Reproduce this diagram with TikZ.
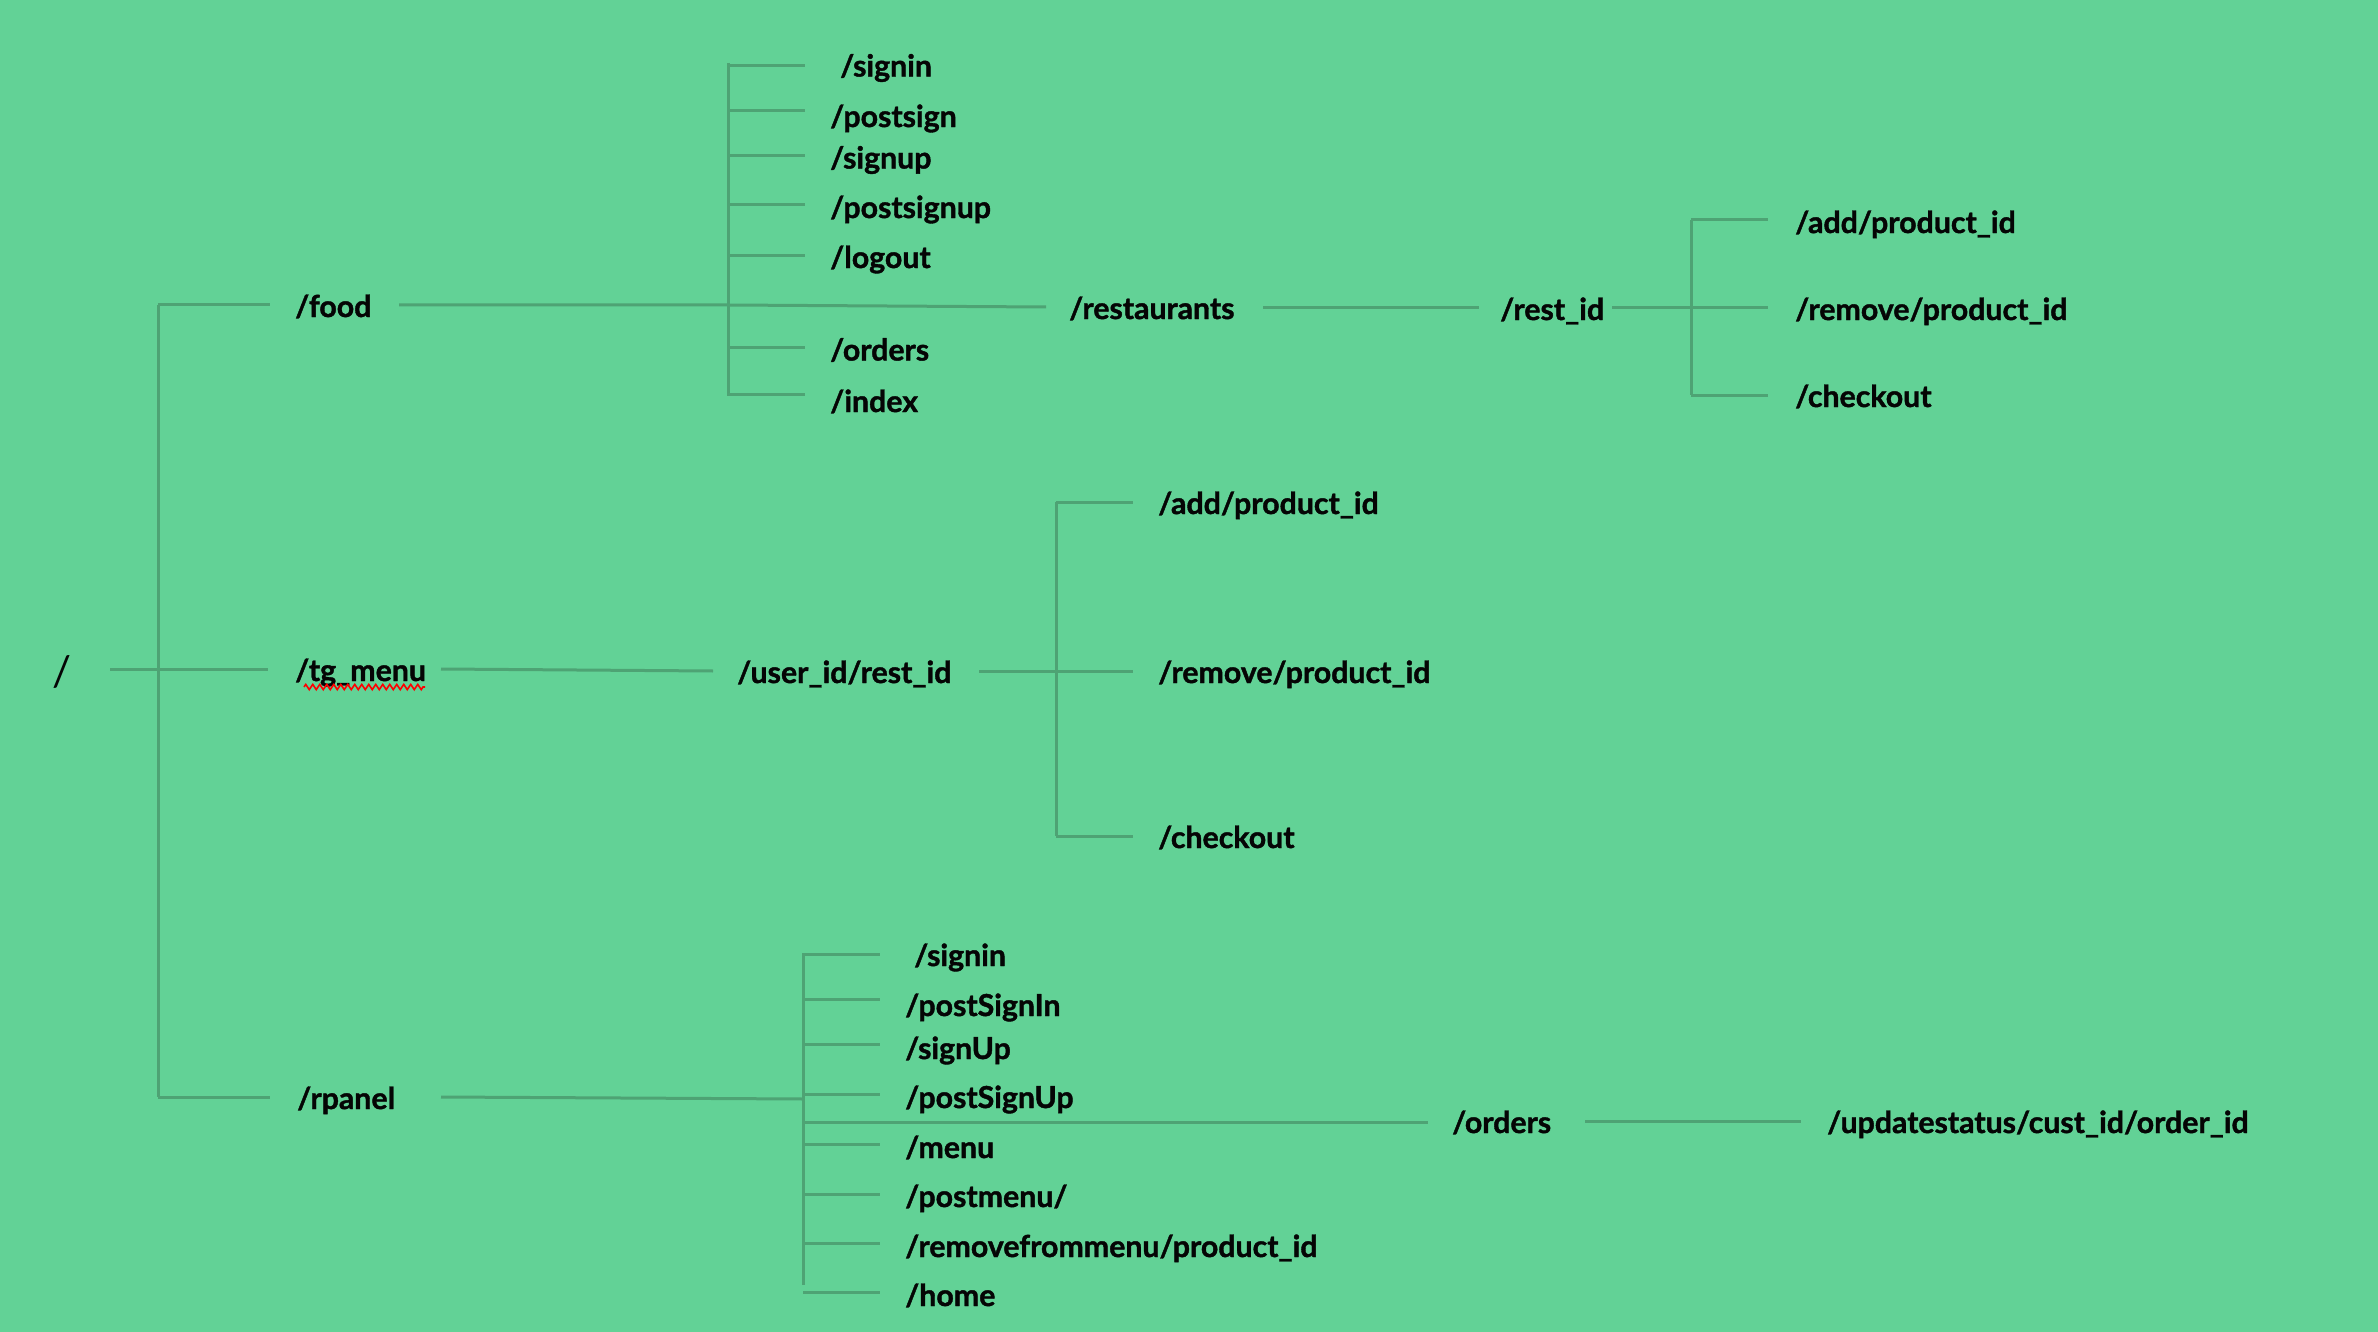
\documentclass[tikz,border=0pt]{standalone}
\usepackage{fontspec}
\setmainfont{Lato}[BoldFeatures={FakeBold=1.3}]
\usetikzlibrary{decorations.pathmorphing}
\definecolor{bgc}{HTML}{62D296}
\definecolor{lnc}{HTML}{4EA374}
\definecolor{txc}{HTML}{050505}
\begin{document}
\begin{tikzpicture}[x=1pt,y=-1pt,
  conn/.style={draw=lnc,line width=3pt},
  lbl/.style={anchor=mid west,inner sep=0pt,yshift=-8.5pt,text=txc,font=\fontsize{30.3}{33}\selectfont\bfseries},
  rootlbl/.style={anchor=center,inner sep=0pt,yshift=-3pt,text=txc,font=\fontsize{42}{46}\selectfont}]
\fill[bgc] (0,0) rectangle (2378,1332);
\useasboundingbox (0,0) rectangle (2378,1332);

% ---- root and first level
\node[rootlbl] (root) at (62,669) {/};
\node[lbl] (food) at (295,306) {/food};
\node[lbl] (tg) at (295,670) {/tg\_menu};
\node[lbl] (rpanel) at (297,1098) {/rpanel};

\coordinate (rootR) at (110,669);
\coordinate (trT) at (158,305);
\coordinate (trB) at (158,1097);
\coordinate (foodL) at (270,305);
\coordinate (tgL) at (268,669);
\coordinate (rpL) at (270,1097);
\draw[conn] (trT) -- (trB);
\draw[conn] (rootR) -- (tgL);
\draw[conn] (trT) -- (foodL);
\draw[conn] (trB) -- (rpL);

% ---- /food subtree
\coordinate (fJ) at (728,305);
\coordinate (fT) at (728,63);
\coordinate (fB) at (728,396);
\draw[conn] (fT) -- (fB);
\coordinate (foodR) at (399,305);
\node[lbl] (restaurants) at (1069,308) {/restaurants};
\coordinate (restL) at (1046,307);
\draw[conn] (foodR) -- (fJ) -- (restL);

\foreach \nm/\ly/\tx/\ty/\txt in {
  fsignin/66/840/65.5/{/signin},
  fpostsign/111/830/116/{/postsign},
  fsignup/156/830/157.5/{/signup},
  fpostsignup/205/830/207/{/postsignup},
  flogout/256/830/257/{/logout},
  forders/348/830/349.5/{/orders},
  findex/394/830/401/{/index}}{
  \coordinate (\nm a) at (728,\ly);
  \coordinate (\nm b) at (805,\ly);
  \draw[conn] (\nm a) -- (\nm b);
  \node[lbl] (\nm) at (\tx,\ty) {\txt};
}

% ---- /restaurants -> /rest_id
\coordinate (resR) at (1263,308);
\coordinate (ridL) at (1479,308);
\draw[conn] (resR) -- (ridL);
\node[lbl] (restid) at (1500,309) {/rest\_id};
\coordinate (ridR) at (1612,308);
\coordinate (rJ) at (1691,308);
\coordinate (rT) at (1691,220);
\coordinate (rB) at (1691,395);
\draw[conn] (ridR) -- (rJ);
\draw[conn] (rT) -- (rB);
\foreach \nm/\ly/\ty/\txt in {
  radd/220/222/{/add/product\_id},
  rrem/308/309/{/remove/product\_id},
  rchk/395/396/{/checkout}}{
  \coordinate (\nm a) at (1691,\ly);
  \coordinate (\nm b) at (1768,\ly);
  \draw[conn] (\nm a) -- (\nm b);
  \node[lbl] (\nm) at (1795,\ty) {\txt};
}

% ---- /tg_menu subtree
\coordinate (tgR) at (441,669);
\coordinate (usL) at (713,671);
\draw[conn] (tgR) -- (usL);
\draw[red,line width=1.6pt,decorate,decoration={zigzag,segment length=7pt,amplitude=2.6pt}]
  ([yshift=-6pt,xshift=9pt]tg.base west) -- ([yshift=-6pt,xshift=-1pt]tg.base east);
\node[lbl] (user) at (737,672) {/user\_id/rest\_id};
\coordinate (usR) at (979,671);
\coordinate (uJ) at (1056,671);
\coordinate (uT) at (1056,502);
\coordinate (uB) at (1056,836);
\draw[conn] (usR) -- (uJ);
\draw[conn] (uT) -- (uB);
\foreach \nm/\ly/\ty/\txt in {
  uadd/502/503/{/add/product\_id},
  urem/671/672/{/remove/product\_id},
  uchk/836/837/{/checkout}}{
  \coordinate (\nm a) at (1056,\ly);
  \coordinate (\nm b) at (1133,\ly);
  \draw[conn] (\nm a) -- (\nm b);
  \node[lbl] (\nm) at (1158,\ty) {\txt};
}

% ---- /rpanel subtree
\coordinate (rpR) at (441,1097);
\coordinate (pJ) at (803,1099);
\coordinate (pT) at (803,953);
\coordinate (pB) at (803,1285);
\draw[conn] (rpR) -- (pJ);
\draw[conn] (pT) -- (pB);
\foreach \nm/\ly/\tx/\ty/\txt in {
  psignin/954/914/955/{/signin},
  ppsi/999/905/1005/{/postSignIn},
  psu/1044/905/1048/{/signUp},
  ppsu/1094/905/1097/{/postSignUp},
  pmenu/1144/905/1147/{/menu},
  ppm/1194/905/1196/{/postmenu/},
  prm/1243/905/1246/{/removefrommenu/product\_id},
  phome/1292/905/1295/{/home}}{
  \coordinate (\nm a) at (803,\ly);
  \coordinate (\nm b) at (880,\ly);
  \draw[conn] (\nm a) -- (\nm b);
  \node[lbl] (\nm) at (\tx,\ty) {\txt};
}
\coordinate (pO) at (803,1122);
\coordinate (ordL) at (1428,1122);
\draw[conn] (pO) -- (ordL);
\node[lbl] (orders) at (1452,1122) {/orders};
\coordinate (ordR) at (1585,1121);
\coordinate (updL) at (1801,1121);
\draw[conn] (ordR) -- (updL);
\node[lbl] (upd) at (1827,1122) {/updatestatus/cust\_id/order\_id};
\end{tikzpicture}
\end{document}
